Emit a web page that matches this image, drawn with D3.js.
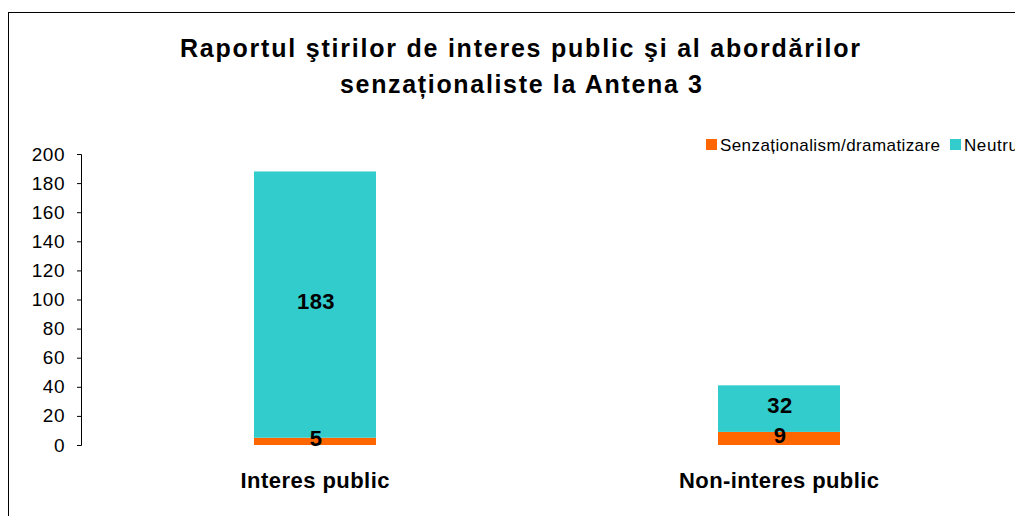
<!DOCTYPE html>
<html>
<head>
<meta charset="utf-8">
<script src="https://cdn.jsdelivr.net/npm/d3@7"></script>
<style>
  body { margin: 0; background: #fff; }
  svg { display: block; font-family: "Liberation Sans", Arial, sans-serif; }
</style>
</head>
<body>
<div id="chart"></div>
<script>
var width = 1015;
var height = 516;

// data
var categories = ["Interes public", "Non-interes public"];
var seriesNames = ["Senzaționalism/dramatizare", "Neutru"];
var senzational = [5, 9];
var neutru = [183, 32];
var yTicks = [0, 20, 40, 60, 80, 100, 120, 140, 160, 180, 200];
var colors = ["#FF6600", "#33CCCC"];

var plotLeft = 81, plotRight = 1011;
var plotTop = 154, plotBottom = 445;

var svg = d3.select("#chart")
  .append("svg")
  .attr("width", width)
  .attr("height", height);

// outer frame
svg.append("rect")
  .attr("x", 8.5)
  .attr("y", 12.5)
  .attr("width", 1100)
  .attr("height", 600)
  .attr("fill", "none")
  .attr("stroke", "#000")
  .attr("stroke-width", 1);

// title (the original renders wide, so stretch the spacing a bit)
var title = svg.append("text")
  .attr("text-anchor", "middle")
  .attr("font-size", "25px")
  .attr("font-weight", "bold")
  .attr("fill", "#000");
title.append("tspan").attr("x", 520).attr("y", 57)
  .attr("textLength", 680).attr("lengthAdjust", "spacing")
  .text("Raportul ştirilor de interes public şi al abordărilor");
title.append("tspan").attr("x", 521).attr("y", 93)
  .attr("textLength", 362).attr("lengthAdjust", "spacing")
  .text("senzaționaliste la Antena 3");

var x = d3.scaleBand()
  .domain(categories)
  .range([plotLeft + 2, plotRight]);

var y = d3.scaleLinear()
  .domain([0, 200])
  .range([plotBottom, plotTop]);

var barWidth = 122;

// y axis
var yAxis = svg.append("g")
  .attr("transform", "translate(" + plotLeft + ",0)")
  .call(d3.axisLeft(y).tickValues(yTicks).tickSize(4).tickPadding(12));
yAxis.select(".domain").attr("stroke", "#000").attr("d", "M-4," + (plotTop + 0.5) + "H0.5V" + (plotBottom + 0.5) + "H-4");
yAxis.selectAll(".tick line").attr("stroke", "#000");
yAxis.selectAll(".tick text")
  .attr("font-size", "19px")
  .attr("letter-spacing", "0.5px")
  .attr("font-family", "Liberation Sans, Arial, sans-serif")
  .attr("fill", "#000");

// stacks
var rows = categories.map(function(c, i) {
  return { cat: c, s: senzational[i], n: neutru[i] };
});

var groups = svg.selectAll("g.bar")
  .data(rows)
  .enter()
  .append("g")
  .attr("class", "bar");

groups.append("rect")
  .attr("x", function(d) { return x(d.cat) + x.bandwidth() / 2 - barWidth / 2; })
  .attr("y", function(d) { return y(d.s); })
  .attr("width", barWidth)
  .attr("height", function(d) { return y(0) - y(d.s); })
  .attr("fill", colors[0]);

groups.append("rect")
  .attr("x", function(d) { return x(d.cat) + x.bandwidth() / 2 - barWidth / 2; })
  .attr("y", function(d) { return y(d.s + d.n); })
  .attr("width", barWidth)
  .attr("height", function(d) { return y(d.s) - y(d.s + d.n); })
  .attr("fill", colors[1]);

// value labels
groups.append("text")
  .attr("x", function(d) { return x(d.cat) + x.bandwidth() / 2 + 1; })
  .attr("y", function(d) { return (y(0) + y(d.s)) / 2 + 5; })
  .attr("text-anchor", "middle")
  .attr("font-size", "22px")
  .attr("letter-spacing", "0.5px")
  .attr("font-weight", "bold")
  .text(function(d) { return d.s; });

groups.append("text")
  .attr("x", function(d) { return x(d.cat) + x.bandwidth() / 2 + 1; })
  .attr("y", function(d) { return (y(d.s) + y(d.s + d.n)) / 2 + 4; })
  .attr("text-anchor", "middle")
  .attr("font-size", "22px")
  .attr("letter-spacing", "0.5px")
  .attr("font-weight", "bold")
  .text(function(d) { return d.n; });

// category labels
var catLen = [149, 200];
svg.selectAll("text.cat")
  .data(categories)
  .enter()
  .append("text")
  .attr("class", "cat")
  .attr("x", function(d) { return x(d) + x.bandwidth() / 2; })
  .attr("y", 488)
  .attr("text-anchor", "middle")
  .attr("font-size", "22px")
  .attr("font-weight", "bold")
  .attr("textLength", function(d, i) { return catLen[i]; })
  .attr("lengthAdjust", "spacing")
  .text(function(d) { return d; });

// legend (the second entry runs off the right edge, as in the original)
var legend = svg.append("g").attr("transform", "translate(706,139)");
var legX = [0, 244];
var legLen = [220, 54];
seriesNames.forEach(function(name, i) {
  legend.append("rect")
    .attr("x", legX[i])
    .attr("y", 0)
    .attr("width", 11)
    .attr("height", 11)
    .attr("fill", colors[i]);
  legend.append("text")
    .attr("x", legX[i] + 14)
    .attr("y", 12)
    .attr("font-size", "17px")
    .attr("textLength", legLen[i])
    .attr("lengthAdjust", "spacing")
    .attr("fill", "#000")
    .text(name);
});
</script>
</body>
</html>
